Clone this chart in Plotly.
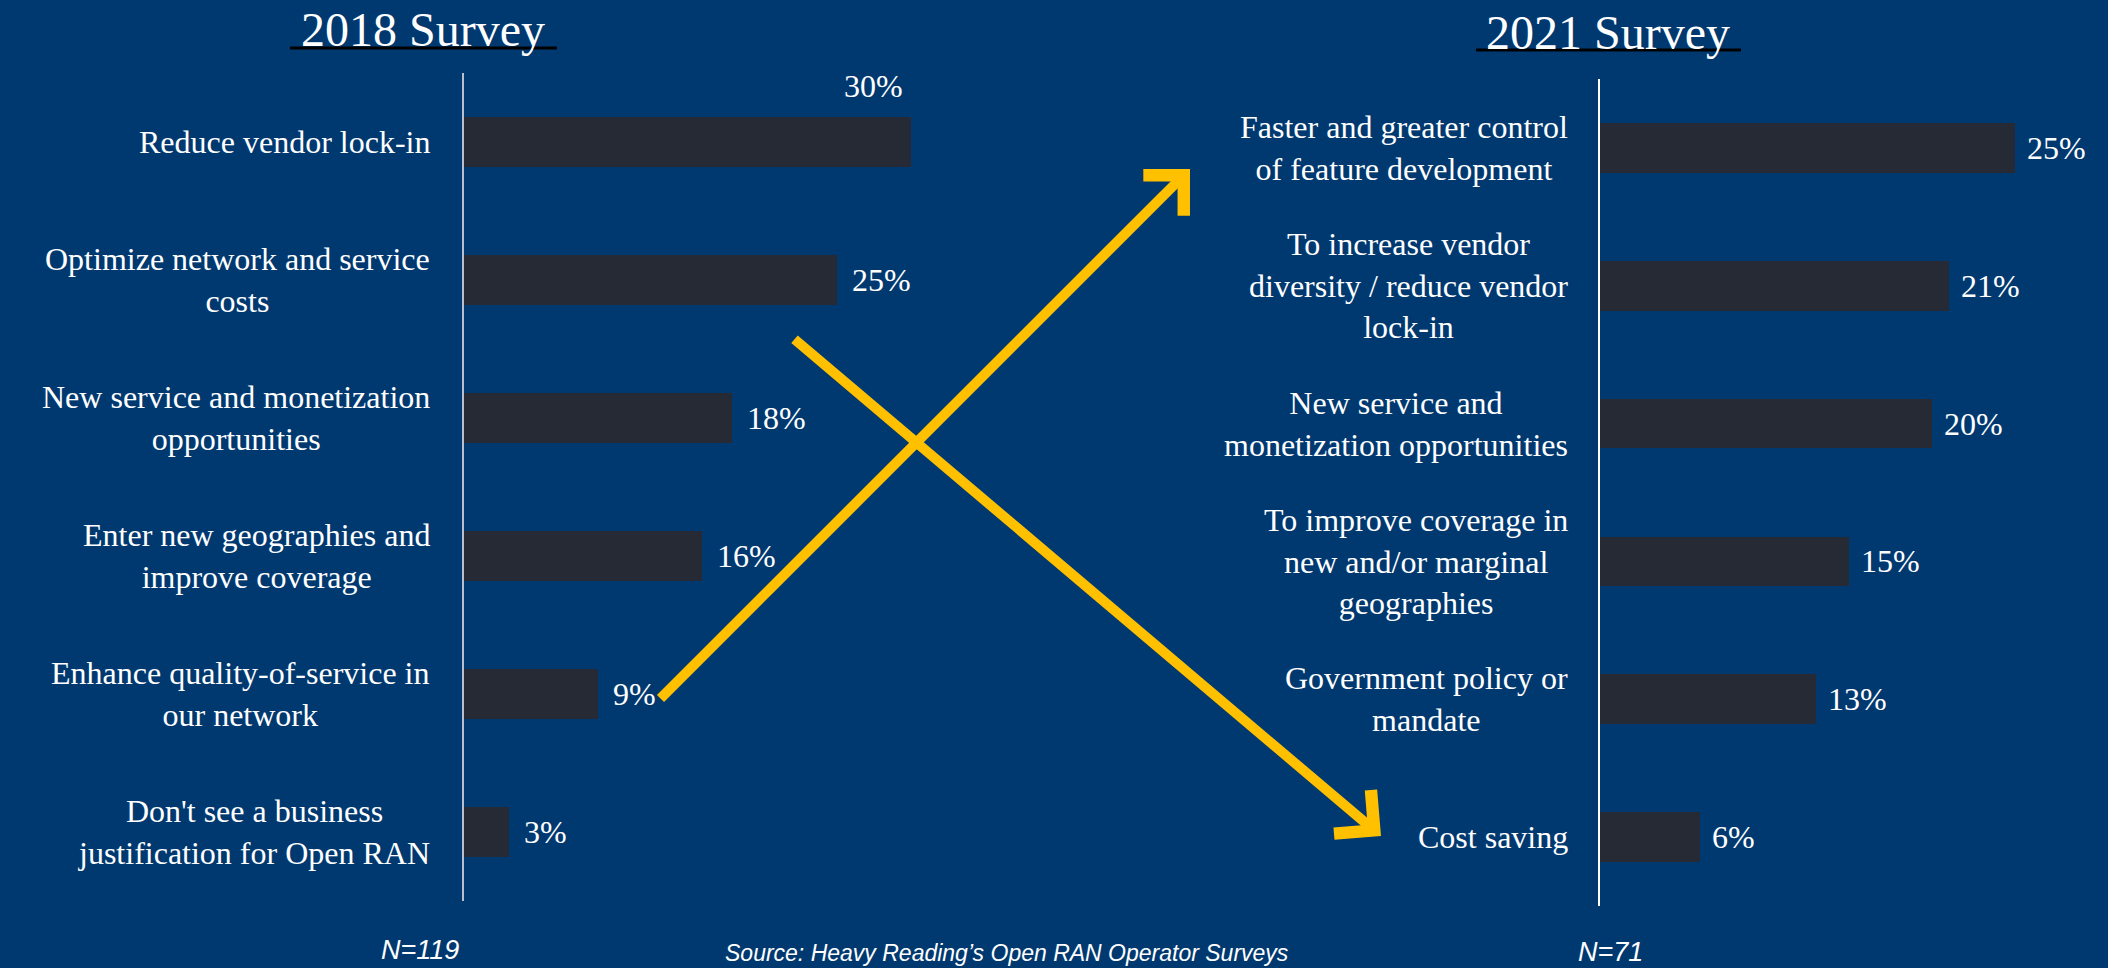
import plotly.graph_objects as go

# ---------------- data ----------------
cats_2018 = [
    "Reduce vendor lock-in",
    "Optimize network and service<br>costs",
    "New service and monetization<br>opportunities",
    "Enter new geographies and<br>improve coverage",
    "Enhance quality-of-service in<br>our network",
    "Don't see a business<br>justification for Open RAN",
]
vals_2018 = [30, 25, 18, 16, 9, 3]

cats_2021 = [
    "Faster and greater control<br>of feature development",
    "To increase vendor<br>diversity / reduce vendor<br>lock-in",
    "New service and<br>monetization opportunities",
    "To improve coverage in<br>new and/or marginal<br>geographies",
    "Government policy or<br>mandate",
    "Cost saving",
]
vals_2021 = [25, 21, 20, 15, 13, 6]

title_2018 = "2018 Survey"
title_2021 = "2021 Survey"
n_2018 = "N=119"
n_2021 = "N=71"
source_text = "Source: Heavy Reading\u2019s Open RAN Operator Surveys"

# ---------------- styling ----------------
W, H = 2108, 968
BG = "#003970"
BAR = "#252a35"
YELLOW = "#FFC000"
SERIF = "Liberation Serif, Times New Roman, serif"
SANS = "Liberation Sans, Arial, sans-serif"


def px(x):
    return x / W


def py(y):
    return 1 - y / H


fig = go.Figure()
fig.add_trace(go.Bar(x=vals_2018, y=cats_2018, orientation="h", marker_color=BAR,
                     marker_line_width=0, width=0.36, xaxis="x", yaxis="y",
                     hoverinfo="skip"))
fig.add_trace(go.Bar(x=vals_2021, y=cats_2021, orientation="h", marker_color=BAR,
                     marker_line_width=0, width=0.36, xaxis="x2", yaxis="y2",
                     hoverinfo="skip"))

ann = []
# category labels
for c in cats_2018:
    ann.append(dict(xref="paper", yref="y", x=px(432), y=c, text=c, showarrow=False,
                    xanchor="right", yanchor="middle", align="center",
                    font=dict(family=SERIF, size=32, color="white")))
for c in cats_2021:
    ann.append(dict(xref="paper", yref="y2", x=px(1570), y=c, text=c, showarrow=False,
                    xanchor="right", yanchor="middle", align="center",
                    font=dict(family=SERIF, size=32, color="white")))
# value labels
for i, (c, v) in enumerate(zip(cats_2018, vals_2018)):
    if i == 0:
        ann.append(dict(xref="x", yref="y", x=v, y=c, text=f"{v}%", showarrow=False,
                        xanchor="right", yanchor="middle", xshift=-6, yshift=56,
                        font=dict(family=SERIF, size=32, color="white")))
    else:
        ann.append(dict(xref="x", yref="y", x=v, y=c, text=f"{v}%", showarrow=False,
                        xanchor="left", yanchor="middle", xshift=13,
                        font=dict(family=SERIF, size=32, color="white")))
for c, v in zip(cats_2021, vals_2021):
    ann.append(dict(xref="x2", yref="y2", x=v, y=c, text=f"{v}%", showarrow=False,
                    xanchor="left", yanchor="middle", xshift=10,
                    font=dict(family=SERIF, size=32, color="white")))
# titles
ann.append(dict(xref="paper", yref="paper", x=px(423), y=py(30), text=title_2018,
                showarrow=False, xanchor="center", yanchor="middle",
                font=dict(family=SERIF, size=48, color="white")))
ann.append(dict(xref="paper", yref="paper", x=px(1608), y=py(32), text=title_2021,
                showarrow=False, xanchor="center", yanchor="middle",
                font=dict(family=SERIF, size=48, color="white")))
# footer
ann.append(dict(xref="paper", yref="paper", x=px(420), y=py(950), text=n_2018,
                showarrow=False, xanchor="center", yanchor="middle",
                font=dict(family=SANS, size=27, color="white", style="italic")))
ann.append(dict(xref="paper", yref="paper", x=px(1007), y=py(953), text=source_text,
                showarrow=False, xanchor="center", yanchor="middle",
                font=dict(family=SANS, size=23, color="white", style="italic")))
ann.append(dict(xref="paper", yref="paper", x=px(1610), y=py(952), text=n_2021,
                showarrow=False, xanchor="center", yanchor="middle",
                font=dict(family=SANS, size=27, color="white", style="italic")))
# yellow arrows (tip, tail in pixels)
for (tx, ty), (sx, sy) in [((1190, 169), (659, 700)), ((1381, 836), (793, 338))]:
    ann.append(dict(xref="paper", yref="paper", x=px(tx), y=py(ty), text="",
                    showarrow=True, axref="pixel", ayref="pixel",
                    ax=sx - tx, ay=sy - ty, arrowhead=4, arrowsize=1.1,
                    arrowwidth=10, arrowcolor=YELLOW, standoff=0, startstandoff=0))

shapes = [
    dict(type="line", xref="paper", yref="paper", x0=px(290), x1=px(557),
         y0=py(48), y1=py(48), line=dict(color="black", width=3)),
    dict(type="line", xref="paper", yref="paper", x0=px(1476), x1=px(1741),
         y0=py(50), y1=py(50), line=dict(color="black", width=3)),
]

fig.update_layout(
    width=W, height=H,
    margin=dict(l=0, r=0, t=0, b=0),
    paper_bgcolor=BG, plot_bgcolor=BG,
    showlegend=False,
    bargap=0,
    annotations=ann,
    shapes=shapes,
    xaxis=dict(domain=[px(464), px(464 + 36 * 14.9)], range=[0, 36], visible=False,
               fixedrange=True),
    yaxis=dict(domain=[py(901), py(73)], range=[5.5, -0.5], type="category",
               categoryorder="array", categoryarray=cats_2018,
               showticklabels=False, showgrid=False, zeroline=False,
               showline=True, linecolor="#b8c0cf", linewidth=1.5, ticks="",
               anchor="x", fixedrange=True),
    xaxis2=dict(domain=[px(1600), px(1600 + 30 * 16.6)], range=[0, 30], visible=False,
                anchor="y2", fixedrange=True),
    yaxis2=dict(domain=[py(906), py(79)], range=[5.5, -0.5], type="category",
                categoryorder="array", categoryarray=cats_2021,
                showticklabels=False, showgrid=False, zeroline=False,
                showline=True, linecolor="#ffffff", linewidth=1.5, ticks="",
                anchor="x2", fixedrange=True),
)

fig.write_html("out.html", config={"displayModeBar": False},
               post_script="document.body.style.margin='0';document.body.style.overflow='hidden';")
